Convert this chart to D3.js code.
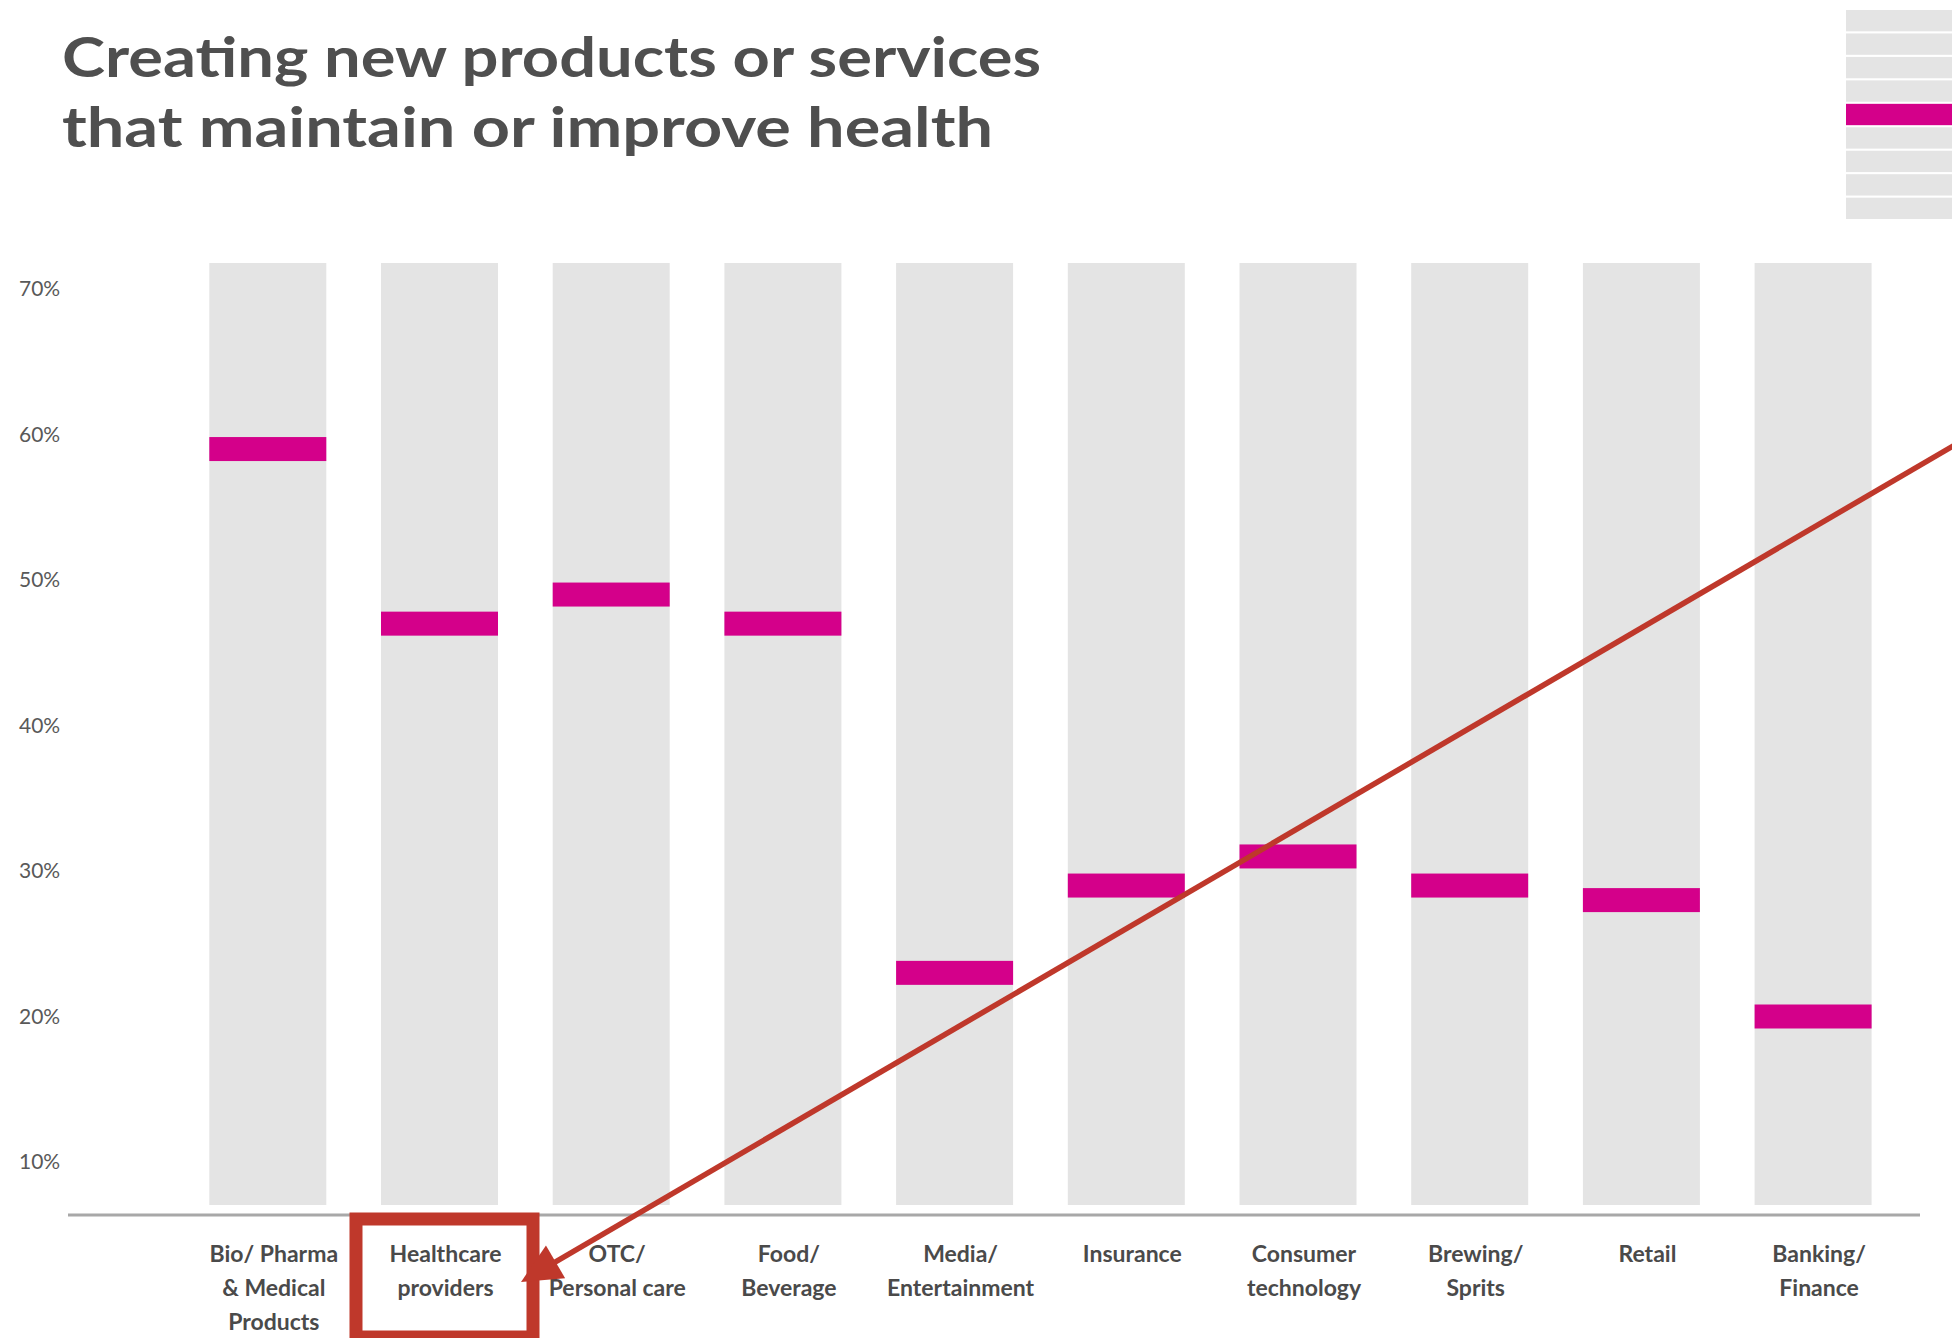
<!DOCTYPE html>
<html>
<head>
<meta charset="utf-8">
<script src="https://cdn.jsdelivr.net/npm/d3@7"></script>
<style>
  html, body { margin: 0; padding: 0; background: #ffffff; }
  svg { display: block; }
</style>
</head>
<body>
<script>
// ---- data ----
const categories = [
  "Bio/ Pharma & Medical Products",
  "Healthcare providers",
  "OTC/ Personal care",
  "Food/ Beverage",
  "Media/ Entertainment",
  "Insurance",
  "Consumer technology",
  "Brewing/ Sprits",
  "Retail",
  "Banking/ Finance"
];
const categoryLines = [
  ["Bio/ Pharma", "& Medical", "Products"],
  ["Healthcare", "providers"],
  ["OTC/", "Personal care"],
  ["Food/", "Beverage"],
  ["Media/", "Entertainment"],
  ["Insurance"],
  ["Consumer", "technology"],
  ["Brewing/", "Sprits"],
  ["Retail"],
  ["Banking/", "Finance"]
];
const values = [59, 47, 49, 47, 23, 29, 31, 29, 28, 20];
const yTicks = [10, 20, 30, 40, 50, 60, 70];
const titleLines = [
  "Creating new products or services",
  "that maintain or improve health"
];
const highlighted = "Healthcare providers";
// mini navigator strip: one entry per row, 1 = current topic
const navRows = [0, 0, 0, 0, 1, 0, 0, 0, 0];

// ---- layout ----
const W = 1952, H = 1338;
const plotTop = 263, plotBottom = 1205, axisY = 1215;
const markH = 24;
const GREY = "#e4e4e4", MAGENTA = "#d4008a", RED = "#bf382b";
const FONT = "Lato, 'Open Sans', sans-serif";

const svg = d3.select("body").append("svg")
  .attr("width", W).attr("height", H)
  .attr("viewBox", `0 0 ${W} ${H}`);

const x = d3.scaleBand()
  .domain(categories)
  .range([209.3, 1871.6])
  .paddingInner(0.3186)
  .paddingOuter(0);

const y = d3.scaleLinear()
  .domain([10, 70])
  .range([1162, 289]);

// ---- title ----
const titleWidths = [979, 931];
svg.append("g").selectAll("text")
  .data(titleLines)
  .join("text")
  .attr("x", 62)
  .attr("y", (d, i) => 77 + i * 70)
  .attr("font-family", FONT)
  .attr("font-weight", 700)
  .attr("font-size", 56)
  .attr("fill", "#4f4f4f")
  .attr("textLength", (d, i) => titleWidths[i])
  .attr("lengthAdjust", "spacingAndGlyphs")
  .text(d => d);

// ---- navigator strip (top right) ----
const nav = d3.scaleBand()
  .domain(d3.range(navRows.length))
  .range([10, 219])
  .paddingInner(0.09);
svg.append("g").selectAll("rect")
  .data(navRows)
  .join("rect")
  .attr("x", 1846)
  .attr("y", (d, i) => nav(i))
  .attr("width", W - 1846)
  .attr("height", nav.bandwidth())
  .attr("fill", d => d ? MAGENTA : GREY);

// ---- background columns ----
svg.append("g").selectAll("rect")
  .data(categories)
  .join("rect")
  .attr("x", d => x(d))
  .attr("y", plotTop)
  .attr("width", x.bandwidth())
  .attr("height", plotBottom - plotTop)
  .attr("fill", GREY);

// ---- value markers ----
svg.append("g").selectAll("rect")
  .data(values)
  .join("rect")
  .attr("x", (d, i) => x(categories[i]))
  .attr("y", d => y(d) - markH / 2)
  .attr("width", x.bandwidth())
  .attr("height", markH)
  .attr("fill", MAGENTA);

// ---- y axis ----
const yAxis = svg.append("g")
  .attr("transform", "translate(19,0)")
  .call(d3.axisLeft(y).tickValues(yTicks).tickFormat(d => d + "%").tickSize(0));
yAxis.select(".domain").remove();
yAxis.selectAll("text")
  .attr("x", 0)
  .attr("text-anchor", "start")
  .attr("font-family", FONT)
  .attr("font-size", 21)
  .attr("fill", "#595959");

// ---- x axis ----
svg.append("line")
  .attr("x1", 68).attr("x2", 1920)
  .attr("y1", axisY).attr("y2", axisY)
  .attr("stroke", "#a8a8a8")
  .attr("stroke-width", 3);

const xAxis = svg.append("g")
  .attr("transform", `translate(6,${axisY})`)
  .call(d3.axisBottom(x).tickSize(0));
xAxis.select(".domain").remove();
xAxis.selectAll(".tick text").each(function (d, i) {
  const t = d3.select(this)
    .text(null)
    .attr("y", 0)
    .attr("dy", null)
    .attr("font-family", FONT)
    .attr("font-weight", 700)
    .attr("font-size", 23)
    .attr("fill", "#4a4a4a");
  categoryLines[i].forEach((line, k) => {
    t.append("tspan")
      .attr("x", 0)
      .attr("y", 47 + k * 34)
      .text(line);
  });
});

// ---- callout: box around the highlighted label and pointer arrow ----
const boxCx = x(highlighted) + x.bandwidth() / 2 + 5;
const boxW = 177, boxTop = 1219, boxH = 118, boxStroke = 13;
svg.append("rect")
  .attr("x", boxCx - boxW / 2)
  .attr("y", boxTop)
  .attr("width", boxW)
  .attr("height", boxH)
  .attr("fill", "none")
  .attr("stroke", RED)
  .attr("stroke-width", boxStroke);

const tip = [boxCx + boxW / 2 - 12, 1282];
const start = [1965, 439];
const dx = start[0] - tip[0], dy = start[1] - tip[1];
const len = Math.hypot(dx, dy);
const ux = dx / len, uy = dy / len;
const headLen = 40, headHalf = 19;
const base = [tip[0] + ux * headLen, tip[1] + uy * headLen];

svg.append("line")
  .attr("x1", start[0]).attr("y1", start[1])
  .attr("x2", base[0] - ux * 2).attr("y2", base[1] - uy * 2)
  .attr("stroke", RED)
  .attr("stroke-width", 5.5);

svg.append("path")
  .attr("d", d3.line()([
    tip,
    [base[0] - uy * headHalf, base[1] + ux * headHalf],
    [base[0] + uy * headHalf, base[1] - ux * headHalf]
  ]) + "Z")
  .attr("fill", RED);
</script>
</body>
</html>
